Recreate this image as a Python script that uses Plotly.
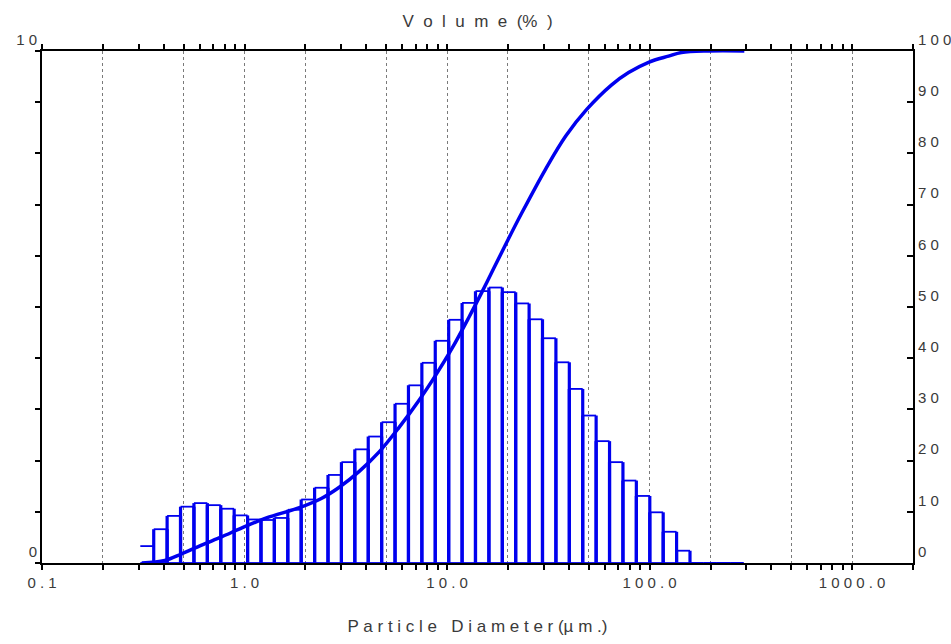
import plotly.graph_objects as go

# ---- data ----
bin_edges = [0.3058, 0.3562, 0.4148, 0.4831, 0.5627, 0.6553, 0.7633, 0.8890, 1.0354,
             1.206, 1.404, 1.636, 1.905, 2.219, 2.584, 3.010, 3.505, 4.083, 4.755,
             5.538, 6.450, 7.512, 8.748, 10.19, 11.87, 13.82, 16.10, 18.75, 21.83,
             25.43, 29.61, 34.49, 40.17, 46.78, 54.49, 63.46, 73.91, 86.08, 100.3,
             116.8, 136.0, 158.4, 184.5, 214.9, 250.3, 291.5]
volume_pct = [0.33, 0.66, 0.92, 1.10, 1.17, 1.13, 1.06, 0.93, 0.85, 0.84, 0.88, 1.04,
              1.24, 1.47, 1.72, 1.97, 2.22, 2.47, 2.75, 3.11, 3.47, 3.91, 4.34, 4.75,
              5.08, 5.31, 5.38, 5.29, 5.07, 4.76, 4.39, 3.92, 3.40, 2.88, 2.38, 1.97,
              1.61, 1.31, 0.99, 0.61, 0.24, 0.0, 0.0, 0.0, 0.0]

cum_diam = [0.311, 0.404, 0.490, 0.614, 0.770, 0.977, 1.283, 1.866, 2.395, 2.938,
            3.686, 4.624, 5.800, 7.278, 8.829, 10.58, 12.83, 14.87, 17.04, 19.75,
            23.42, 30.74, 38.57, 48.95, 65.0, 78.8, 98.9, 124.1, 143.8, 195.3, 293.8]
cum_pct = [0.0, 0.5, 1.8, 3.5, 5.1, 6.9, 8.8, 10.8, 12.6, 14.8, 17.9, 21.7, 26.5,
           31.8, 36.8, 41.9, 48.0, 52.9, 57.6, 62.7, 68.4, 77.0, 83.4, 88.6, 93.4,
           95.8, 97.8, 99.0, 99.7, 100.0, 100.0]

x_label_vals = [0.1, 1, 10, 100, 1000]
x_label_text = ["0 . 1", "1 . 0", "1 0 . 0", "1 0 0 . 0", "1 0 0 0 . 0"]
grid_vals = [0.2, 0.5, 1, 2, 5, 10, 20, 50, 100, 200, 500, 1000]
left_tick_vals = list(range(0, 11))
left_tick_text = ["0"] + [""] * 9 + ["1 0"]
right_tick_vals = list(range(0, 101, 10))
right_tick_text = ["0", "1 0", "2 0", "3 0", "4 0", "5 0", "6 0", "7 0", "8 0", "9 0", "1 0 0"]

title_text = "V\u00a0 o\u00a0 l\u00a0 u\u00a0 m\u00a0 e\u00a0 (%\u00a0 )"
xtitle_text = "P a r t i c l e \u00a0 D i a m e t e r (µ m .)"

BLUE = "#0000ee"
FONT = "Liberation Sans Narrow, Liberation Sans, Arial, sans-serif"
TXT = "#3a3a3a"

# tick positions (1..9 per decade) from 0.1 to 1000
tick_pos = []
for dec in [0.1, 1, 10, 100, 1000]:
    for m in range(1, 10):
        v = round(dec * m, 6)
        if v <= 2000:
            tick_pos.append(v)
tick_txt = [x_label_text[x_label_vals.index(v)] if v in x_label_vals else "" for v in tick_pos]

# bar outlines: vertical sides (thick) and horizontal tops/bottoms (thin)
vx, vy, hx, hy = [], [], [], []
for i, h in enumerate(volume_pct):
    l, r = bin_edges[i], bin_edges[i + 1]
    if i > 0:
        vx += [l, l, None, r, r, None]
        vy += [0, h, None, 0, h, None]
    hx += [l, r, None, l, r, None]
    hy += [h, h, None, 0, 0, None]

fig = go.Figure()
fig.add_trace(go.Scatter(x=vx, y=vy, mode="lines", line=dict(color=BLUE, width=3.2),
                         cliponaxis=False, hoverinfo="skip", showlegend=False))
fig.add_trace(go.Scatter(x=hx, y=hy, mode="lines", line=dict(color=BLUE, width=1.8),
                         cliponaxis=False, hoverinfo="skip", showlegend=False))
fig.add_trace(go.Scatter(x=cum_diam, y=cum_pct, mode="lines", yaxis="y2",
                         line=dict(color=BLUE, width=3.5, shape="spline", smoothing=1.0),
                         cliponaxis=False, showlegend=False))

fig.update_layout(
    width=951, height=644,
    margin=dict(l=42, r=38, t=51, b=81, autoexpand=False),
    paper_bgcolor="white", plot_bgcolor="white",
    font=dict(family=FONT, color=TXT, size=15),
    title=dict(text=title_text, x=0.5, xanchor="center", xref="paper",
               y=1 - 21 / 644, yref="container", yanchor="middle",
               font=dict(family=FONT, size=17, color=TXT)),
    xaxis=dict(
        type="log", range=[-1, 3.301], automargin=False,
        tickmode="array", tickvals=tick_pos, ticktext=tick_txt,
        ticks="outside", ticklen=5, tickwidth=2, tickcolor="black",
        showline=True, linecolor="black", linewidth=2, mirror="allticks",
        showgrid=False, zeroline=False, layer="below traces",
        tickfont=dict(family=FONT, size=15, color=TXT),
        minor=dict(tickmode="array", tickvals=grid_vals, ticklen=0, showgrid=True,
                   gridcolor="#7a7a7a", gridwidth=1, griddash="dot"),
        title=dict(text=xtitle_text, standoff=30,
                   font=dict(family=FONT, size=17, color=TXT)),
    ),
    yaxis=dict(
        range=[0, 10], automargin=False, tickmode="array",
        tickvals=left_tick_vals, ticktext=left_tick_text,
        ticks="outside", ticklen=5, tickwidth=2, tickcolor="black",
        showline=True, linecolor="black", linewidth=2, showgrid=False, zeroline=False,
        ticklabelposition="outside top", layer="below traces",
        tickfont=dict(family=FONT, size=15, color=TXT),
    ),
    yaxis2=dict(
        range=[0, 100], overlaying="y", side="right", automargin=False,
        tickmode="array", tickvals=right_tick_vals, ticktext=right_tick_text,
        ticks="inside", ticklen=6, tickwidth=2, tickcolor="black",
        showline=True, linecolor="black", linewidth=2, showgrid=False, zeroline=False,
        ticklabelposition="outside top", layer="below traces",
        tickfont=dict(family=FONT, size=15, color=TXT),
    ),
)

fig.write_html("out.html", config={"displayModeBar": False},
               post_script="document.body.style.margin='0px';document.body.style.overflow='hidden';")
